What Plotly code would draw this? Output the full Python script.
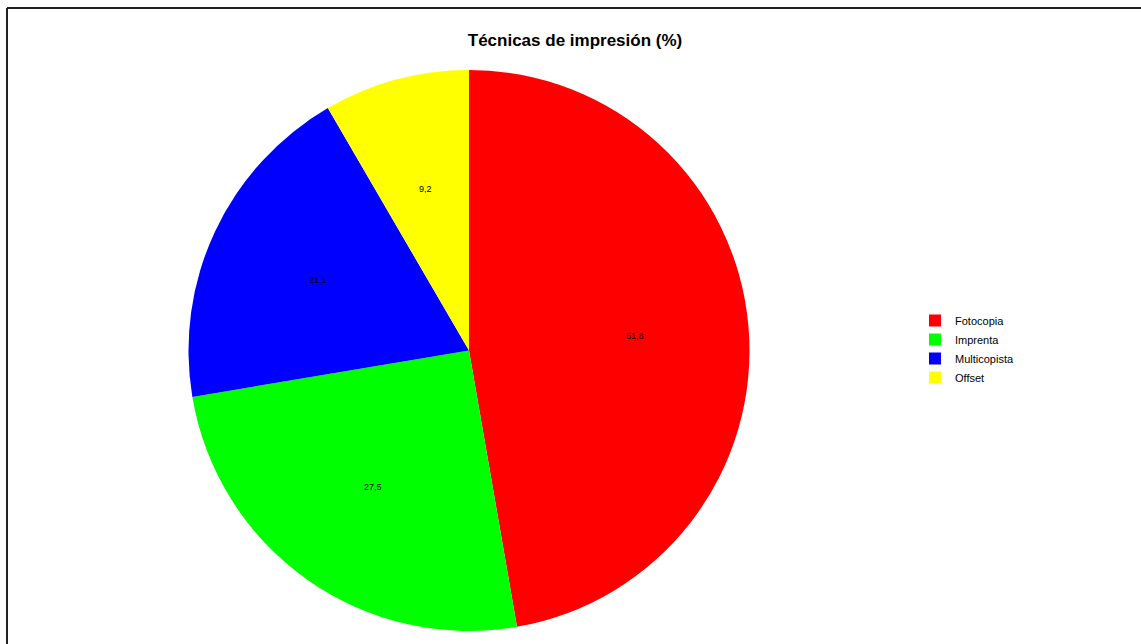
import math
import plotly.graph_objects as go

# Printing techniques and their shares
categories = ["Fotocopia", "Imprenta", "Multicopista", "Offset"]
values = [51.8, 27.5, 21.1, 9.2]
colors = ["#FF0000", "#00FF00", "#0000FF", "#FFFF00"]

W, H = 1141, 644
cx, cy, R = 469, 350.5, 280.5  # pie centre and radius in pixels

dom_x = [(cx - R) / W, (cx + R) / W]
dom_y = [1 - (cy + R) / H, 1 - (cy - R) / H]

fig = go.Figure(
    go.Pie(
        labels=categories,
        values=values,
        marker=dict(colors=colors, line=dict(width=0)),
        sort=False,
        direction="clockwise",
        rotation=0,
        textinfo="none",
        hoverinfo="label+value",
        domain=dict(x=dom_x, y=dom_y),
    )
)

# Value labels placed at the middle angle of each slice
total = sum(values)
cum = 0.0
annotations = []
for v in values:
    mid = (cum + v / 2) / total * 2 * math.pi
    cum += v
    r = 0.595 * R
    px = cx + r * math.sin(mid)
    py = cy - r * math.cos(mid)
    annotations.append(
        dict(
            x=px / W, y=1 - py / H, xref="paper", yref="paper",
            text=f"{v:.1f}".replace(".", ","), showarrow=False,
            font=dict(family="Arial, Liberation Sans", size=9, color="#000000"),
            xanchor="center", yanchor="middle",
        )
    )

# Frame: only the top and left edges fall inside the page
frame = dict(color="#222222", width=2)
shapes = [
    dict(type="line", xref="paper", yref="paper",
         x0=7 / W, x1=1.0, y0=1 - 8 / H, y1=1 - 8 / H, line=frame, layer="above"),
    dict(type="line", xref="paper", yref="paper",
         x0=7 / W, x1=7 / W, y0=0.0, y1=1 - 8 / H, line=frame, layer="above"),
]

fig.update_layout(
    width=W, height=H,
    margin=dict(l=0, r=0, t=0, b=0),
    paper_bgcolor="white",
    plot_bgcolor="white",
    title=dict(
        text="<b>Técnicas de impresión (%)</b>",
        x=575 / W, xanchor="center",
        y=1 - 40 / H, yanchor="middle",
        font=dict(family="Arial, Liberation Sans", size=17, color="#000000"),
    ),
    legend=dict(
        x=915 / W, y=1 - 349 / H, xanchor="left", yanchor="middle",
        font=dict(family="Arial, Liberation Sans", size=11, color="#000000"),
        bgcolor="rgba(0,0,0,0)",
        tracegroupgap=0,
    ),
    annotations=annotations,
    shapes=shapes,
)

fig.write_html("out.html")
